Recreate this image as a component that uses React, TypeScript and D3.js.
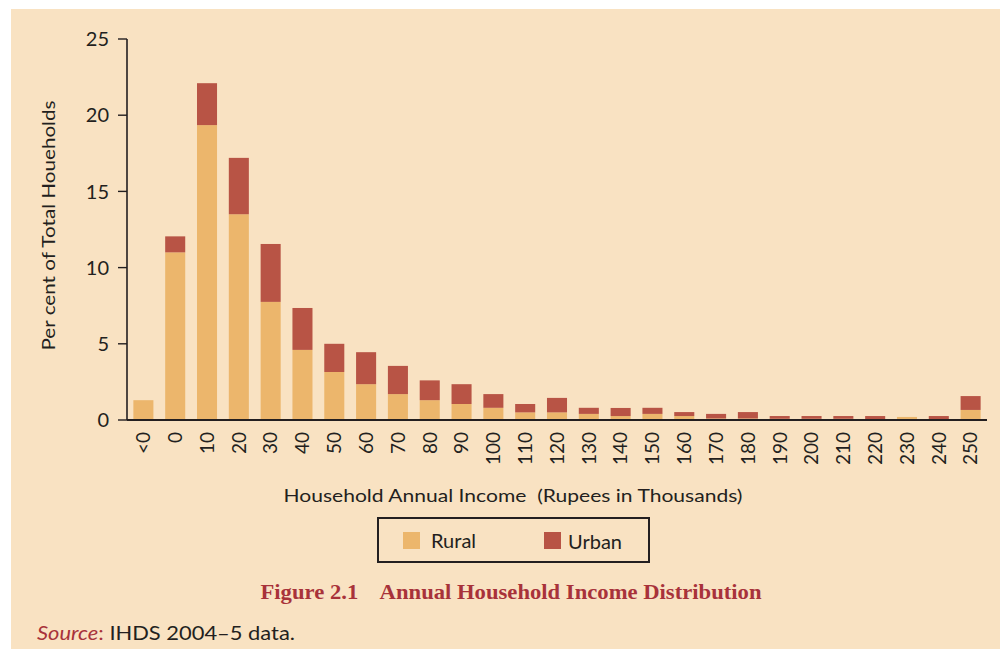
import React from 'react'
import * as d3 from 'd3'

// Income brackets (Rupees in thousands)
const CATEGORIES = ['<0', '0', '10', '20', '30', '40', '50', '60', '70', '80', '90', '100', '110', '120',
  '130', '140', '150', '160', '170', '180', '190', '200', '210', '220', '230', '240', '250']

// per cent of total households
const RURAL = [1.3, 11.0, 19.35, 13.5, 7.75, 4.6, 3.15, 2.35, 1.7, 1.3, 1.05, 0.8, 0.5, 0.5,
  0.4, 0.26, 0.4, 0.26, 0.1, 0.1, 0.08, 0.08, 0.08, 0.05, 0.2, 0.05, 0.66]
const URBAN = [0, 1.05, 2.75, 3.7, 3.8, 2.75, 1.85, 2.1, 1.85, 1.3, 1.3, 0.9, 0.55, 0.95,
  0.4, 0.53, 0.4, 0.26, 0.3, 0.42, 0.18, 0.18, 0.18, 0.21, 0, 0.21, 0.91]

const Y_TICKS = [0, 5, 10, 15, 20, 25]

const SERIES = [
  { key: 'Rural', values: RURAL, color: '#ecb66c' },
  { key: 'Urban', values: URBAN, color: '#b85445' },
]

const BG = '#f9e2c2'
const INK = '#231f20'
const RED_TEXT = '#a8323a'
const SANS = 'Lato, "Noto Sans", sans-serif'

export default function App() {
  const width = 1000
  const height = 652
  const x0 = 127, x1 = 987
  const yBase = 420, yTop = 39

  const x = d3.scaleBand<string>()
    .domain(CATEGORIES)
    .range([x0, x1])
    .paddingInner(0.37)
    .paddingOuter(0.2)

  const y = d3.scaleLinear().domain([0, 25]).range([yBase, yTop])

  // stack rural below urban
  const rows = CATEGORIES.map((c, i) => ({ cat: c, Rural: RURAL[i], Urban: URBAN[i] }))
  const stacked = d3.stack<any>().keys(SERIES.map(s => s.key))(rows)

  return (
    <div style={{ position: 'absolute', left: 0, top: 0 }}>
      <svg width={width} height={height} style={{ display: 'block' }}>
        <rect x={0} y={0} width={width} height={height} fill="#fff" />
        <rect x={11} y={9} width={width - 11} height={640} fill={BG} />

        {/* bars */}
        {stacked.map((layer, li) => (
          <g key={layer.key} fill={SERIES[li].color}>
            {layer.map((d, i) => {
              const h = y(d[0]) - y(d[1])
              if (h <= 0) return null
              return (
                <rect key={i} x={x(CATEGORIES[i])} y={y(d[1])}
                  width={x.bandwidth()} height={h} />
              )
            })}
          </g>
        ))}

        {/* y axis */}
        <line x1={x0} x2={x0} y1={y(25)} y2={yBase} stroke={INK} strokeWidth={1.6} />
        {Y_TICKS.map(t => (
          <g key={t} transform={`translate(0,${y(t)})`}>
            <line x1={118} x2={x0} stroke={INK} strokeWidth={1.4} />
            <text x={109} dy="0.36em" textAnchor="end" fontFamily={SANS} fontSize={20}
              fill={INK}>{t}</text>
          </g>
        ))}

        {/* x axis */}
        <line x1={x0} x2={x1} y1={yBase} y2={yBase} stroke={INK} strokeWidth={2} />
        {CATEGORIES.map(c => (
          <text key={c}
            transform={`translate(${(x(c) ?? 0) + x.bandwidth() / 2},432) rotate(-90)`}
            textAnchor="end" dy="0.36em" fontFamily={SANS} fontSize={19} fill={INK}>{c}</text>
        ))}

        {/* axis titles */}
        <text transform={`translate(55,${(yTop + yBase) / 2 -4}) rotate(-90)`} textAnchor="middle"
          fontFamily={SANS} fontSize={18} fill={INK} textLength={250}
          lengthAdjust="spacingAndGlyphs">Per cent of Total Houeholds</text>
        <text x={513} y={502} textAnchor="middle" fontFamily={SANS} fontSize={18} fill={INK}
          style={{ whiteSpace: 'pre' }} textLength={459}
          lengthAdjust="spacingAndGlyphs">Household Annual Income  (Rupees in Thousands)</text>

        {/* legend */}
        <rect x={378} y={518} width={271} height={44} fill="none" stroke={INK} strokeWidth={2} />
        <rect x={403} y={532} width={17} height={17} fill={SERIES[0].color} />
        <text x={431} y={548} fontFamily={SANS} fontSize={20} fill={INK}>Rural</text>
        <rect x={544} y={532} width={17} height={17} fill={SERIES[1].color} />
        <text x={568} y={549} fontFamily={SANS} fontSize={20} fill={INK}>Urban</text>

        {/* caption */}
        <text x={511} y={599} textAnchor="middle" fontFamily='"Liberation Serif", serif'
          fontWeight="bold" fontSize={22} fill={RED_TEXT} style={{ whiteSpace: 'pre' }}
          textLength={501} lengthAdjust="spacingAndGlyphs">
          {'Figure 2.1    Annual Household Income Distribution'}
        </text>
        <text x={37} y={640} fontFamily={SANS} fontSize={19} fill={INK}
          textLength={258} lengthAdjust="spacingAndGlyphs">
          <tspan fill={RED_TEXT} fontStyle="italic">Source</tspan>
          <tspan fill={RED_TEXT}>:</tspan> IHDS 2004–5 data.
        </text>
      </svg>
    </div>
  )
}
